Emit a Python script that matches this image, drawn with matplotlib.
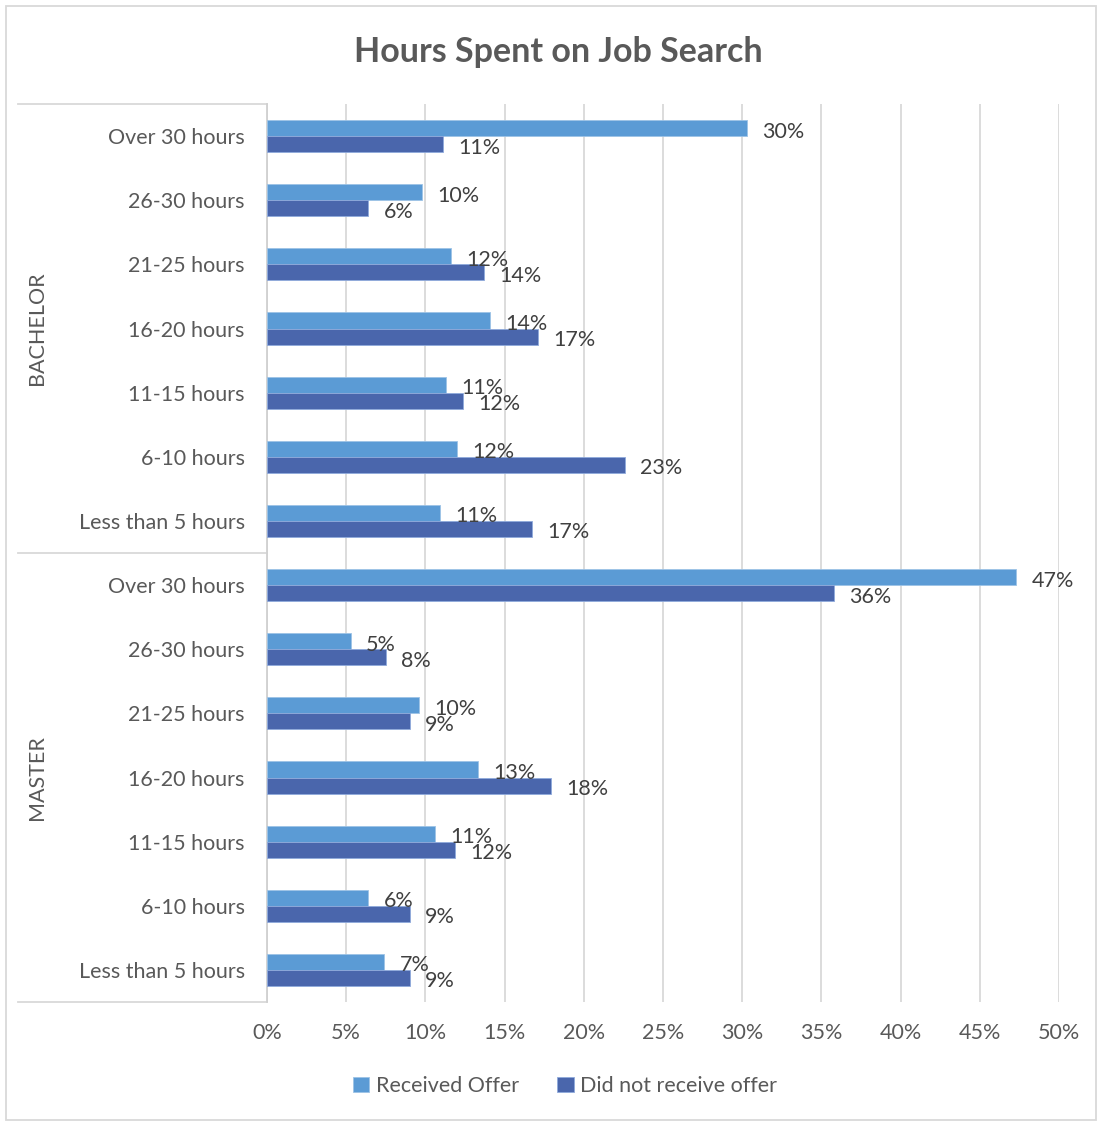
"""Grouped horizontal bars: hours spent on job search by degree and offer outcome."""
import matplotlib
matplotlib.use('Agg')
import matplotlib.pyplot as plt
from matplotlib.patches import Rectangle
from matplotlib.ticker import PercentFormatter

plt.rcParams['font.family'] = ['Lato', 'DejaVu Sans']

groups = ['BACHELOR', 'MASTER']
hours = ['Over 30 hours', '26-30 hours', '21-25 hours', '16-20 hours',
         '11-15 hours', '6-10 hours', 'Less than 5 hours']

# shares per hour bracket, top to bottom
bachelor_offer = [0.303, 0.098, 0.116, 0.141, 0.113, 0.120, 0.109]
bachelor_no_offer = [0.111, 0.064, 0.137, 0.171, 0.124, 0.226, 0.167]
master_offer = [0.473, 0.053, 0.096, 0.133, 0.106, 0.064, 0.074]
master_no_offer = [0.358, 0.075, 0.090, 0.179, 0.119, 0.090, 0.090]

series_names = ['Received Offer', 'Did not receive offer']
colors = ['#5B9BD5', '#4A66AC']
text_col = '#595959'
grid_col = '#D9D9D9'
fs = 15.5

offer = bachelor_offer + master_offer
no_offer = bachelor_no_offer + master_no_offer
labels = hours + hours
ypos = list(range(len(labels)))

fig = plt.figure(figsize=(10.98, 11.22), dpi=100)
ax = fig.add_axes([267 / 1098, 120 / 1122, 792 / 1098, 898 / 1122])

h = 0.25
bars1 = ax.barh([y - h / 2 for y in ypos], offer, height=h, color=colors[0],
                edgecolor='#9DC3E6', linewidth=0.6, label=series_names[0], zorder=3)
bars2 = ax.barh([y + h / 2 for y in ypos], no_offer, height=h, color=colors[1],
                edgecolor='#8FAADC', linewidth=0.6, label=series_names[1], zorder=3)

for bars, vals in ((bars1, offer), (bars2, no_offer)):
    for b, v in zip(bars, vals):
        ax.annotate('{:.0%}'.format(v), (v, b.get_y() + b.get_height() / 2),
                    xytext=(11, -2.5), textcoords='offset points',
                    ha='left', va='center', fontsize=fs, color='#404040')

ax.set_xlim(0, 0.5)
ax.set_ylim(len(labels) - 0.5, -0.5)
ax.xaxis.set_major_formatter(PercentFormatter(1.0, decimals=0))
ax.set_xticks([i * 0.05 for i in range(11)])
ax.set_yticks(ypos)
ax.set_yticklabels(labels)
ax.tick_params(axis='y', length=0, pad=16, labelsize=fs, labelcolor=text_col)
ax.tick_params(axis='x', length=0, pad=15, labelsize=fs, labelcolor=text_col)

ax.grid(axis='x', color=grid_col, linewidth=1.3, zorder=0)
for s in ('top', 'right', 'bottom'):
    ax.spines[s].set_visible(False)
ax.spines['left'].set_color('#D0D0D0')
ax.spines['left'].set_linewidth(1.3)

# group separators and labels left of the category names
tr = ax.get_yaxis_transform()
x0 = (18 - 267) / 792
for y in (-0.5, 6.5, 13.5):
    ax.plot([x0, 0], [y, y], color=grid_col, linewidth=1.3,
            transform=tr, clip_on=False)
for i, g in enumerate(groups):
    ax.text((37 - 267) / 792, i * 7 + 3, g, transform=tr, rotation=90,
            ha='center', va='center', fontsize=fs, color=text_col)

fig.text(558 / 1098, 1 - 52 / 1122, 'Hours Spent on Job Search', ha='center',
         va='center', fontsize=24.5, fontweight='bold', color=text_col)

fig.legend(loc='center', bbox_to_anchor=(565 / 1098, 1 - 1086 / 1122), ncol=2,
           frameon=False, fontsize=fs, labelcolor=text_col, handlelength=0.75,
           handleheight=0.75, handletextpad=0.3, columnspacing=1.8)

fig.patches.append(Rectangle((6 / 1098, 2 / 1122), 1090 / 1098, 1114 / 1122,
                             transform=fig.transFigure, fill=False,
                             edgecolor=grid_col, linewidth=1.3))

fig.savefig('out.png', dpi=100)
